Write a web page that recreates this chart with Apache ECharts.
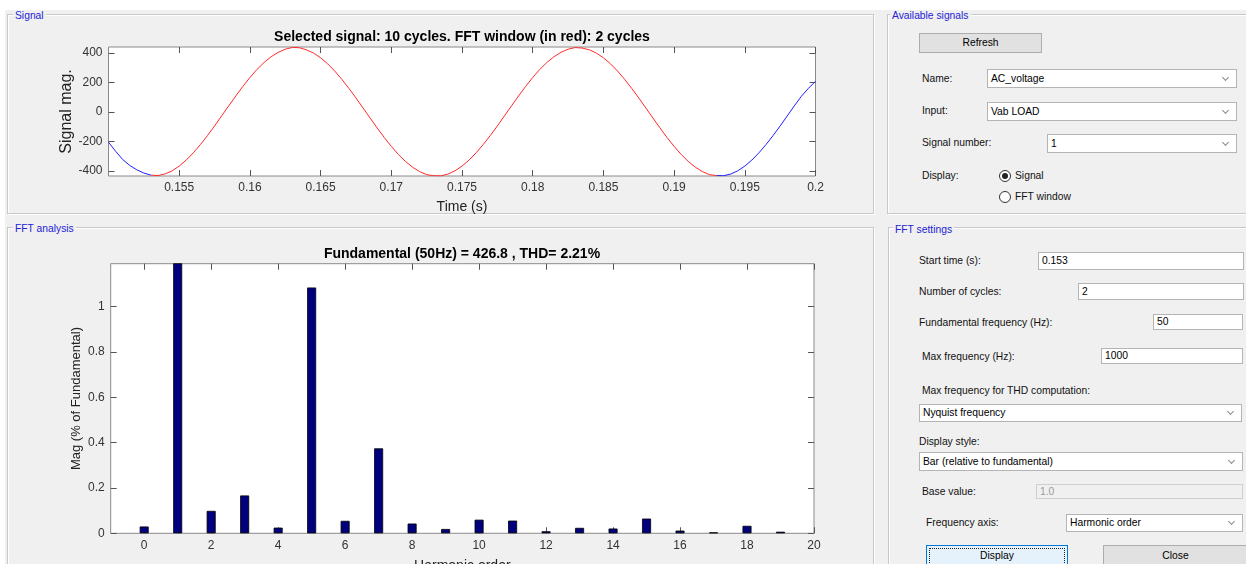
<!DOCTYPE html>
<html>
<head>
<meta charset="utf-8">
<script src="https://cdn.jsdelivr.net/npm/echarts@6/dist/echarts.min.js"></script>
<style>
html, body { margin: 0; padding: 0; width: 1246px; height: 564px; overflow: hidden; background: #fff; font-family: "Liberation Sans", Arial, sans-serif; }
#bg { position: absolute; left: 5px; top: 10px; right: 0; bottom: 0; background: #f0f0f0; }
.panel { position: absolute; border: 1px solid #c8c8c8; box-shadow: inset 1px 1px 0 #fff, 1px 1px 0 #fff; }
.ptitle { position: absolute; font-size: 10.3px; line-height: 12px; color: #2323d8; background: #f0f0f0; padding: 0 2px; white-space: nowrap; }
.lbl { position: absolute; font-size: 10.3px; line-height: 12px; color: #111; white-space: nowrap; }
.box { position: absolute; box-sizing: border-box; background: #fff; border: 1px solid #b4b4b4; font-size: 10.3px; color: #000; padding-left: 3px; white-space: nowrap; overflow: hidden; }
.box.off { background: #f0f0f0; border-color: #cfcfcf; color: #9a9a9a; }
.combo::after { content: ""; position: absolute; right: 8px; top: 50%; width: 4px; height: 4px; margin-top: -4px; border-right: 1px solid #8a8a8a; border-bottom: 1px solid #8a8a8a; transform: rotate(45deg); }
.btn { position: absolute; box-sizing: border-box; background: #e1e1e1; border: 1px solid #adadad; font-size: 10.3px; color: #000; text-align: center; }
.btn.focus { background: #e5f1fb; border-color: #0078d7; }
.btn.focus span { position: absolute; left: 2px; top: 2px; right: 2px; bottom: 2px; border: 1px dotted #222; }
.radio { position: absolute; box-sizing: border-box; width: 12px; height: 12px; border: 1px solid #333; border-radius: 50%; background: #fff; }
.radio.on::after { content: ""; position: absolute; left: 2px; top: 2px; width: 6px; height: 6px; border-radius: 50%; background: #222; }
#plots { position: absolute; left: 0; top: 0; width: 1246px; height: 564px; }
</style>
</head>
<body>
<div id="bg"></div>

<div class="panel" style="left:7px;top:14px;width:865px;height:198px;"></div>
<div class="ptitle" style="left:13px;top:10px;">Signal</div>
<div class="panel" style="left:7px;top:227px;width:865px;height:400px;"></div>
<div class="ptitle" style="left:13px;top:223px;">FFT analysis</div>
<div class="panel" style="left:887px;top:14px;width:400px;height:198px;"></div>
<div class="ptitle" style="left:890px;top:10px;">Available signals</div>
<div class="panel" style="left:888px;top:227px;width:400px;height:400px;"></div>
<div class="ptitle" style="left:893px;top:224px;">FFT settings</div>

<div class="btn" style="left:919px;top:33px;width:123px;height:20px;line-height:18px;">Refresh</div>
<div class="lbl" style="left:922px;top:73px;">Name:</div>
<div class="box combo" style="left:987px;top:69px;width:250px;height:19px;line-height:17px;">AC_voltage</div>
<div class="lbl" style="left:922px;top:105px;">Input:</div>
<div class="box combo" style="left:987px;top:102px;width:250px;height:19px;line-height:17px;">Vab LOAD</div>
<div class="lbl" style="left:922px;top:137px;">Signal number:</div>
<div class="box combo" style="left:1047px;top:134px;width:190px;height:19px;line-height:17px;">1</div>
<div class="lbl" style="left:922px;top:170px;">Display:</div>
<div class="radio on" style="left:999px;top:170px;"></div>
<div class="lbl" style="left:1015px;top:170px;">Signal</div>
<div class="radio" style="left:999px;top:191px;"></div>
<div class="lbl" style="left:1015px;top:191px;">FFT window</div>

<div class="lbl" style="left:919px;top:255px;">Start time (s):</div>
<div class="box" style="left:1038px;top:252px;width:206px;height:18px;line-height:16px;">0.153</div>
<div class="lbl" style="left:919px;top:286px;">Number of cycles:</div>
<div class="box" style="left:1078px;top:283px;width:166px;height:17px;line-height:15px;">2</div>
<div class="lbl" style="left:919px;top:317px;">Fundamental frequency (Hz):</div>
<div class="box" style="left:1153px;top:314px;width:90px;height:16px;line-height:14px;">50</div>
<div class="lbl" style="left:922px;top:351px;">Max frequency (Hz):</div>
<div class="box" style="left:1101px;top:348px;width:142px;height:16px;line-height:14px;">1000</div>
<div class="lbl" style="left:922px;top:385px;">Max frequency for THD computation:</div>
<div class="box combo" style="left:919px;top:404px;width:323px;height:18px;line-height:16px;">Nyquist frequency</div>
<div class="lbl" style="left:919px;top:436px;">Display style:</div>
<div class="box combo" style="left:919px;top:452px;width:324px;height:19px;line-height:17px;">Bar (relative to fundamental)</div>
<div class="lbl" style="left:922px;top:486px;">Base value:</div>
<div class="box off" style="left:1036px;top:484px;width:207px;height:15px;line-height:13px;">1.0</div>
<div class="lbl" style="left:926px;top:517px;">Frequency axis:</div>
<div class="box combo" style="left:1066px;top:514px;width:177px;height:18px;line-height:16px;">Harmonic order</div>
<div class="btn focus" style="left:926px;top:545px;width:142px;height:25px;line-height:19px;"><span></span>Display</div>
<div class="btn" style="left:1103px;top:545px;width:145px;height:25px;line-height:19px;">Close</div>

<div id="plots"></div>

<script>
const timeStart = 0.15;
const timeStep = 0.0005;
const signalMag = [
  -205, -266, -322, -362, -392, -414, -428, -431, -420, -399,
  -367, -326, -277, -221, -160, -95, -27, 41, 108, 173,
  233, 288, 335, 374, 404, 425, 437, 435, 421, 399,
  367, 326, 277, 221, 160, 95, 27, -41, -108, -173,
  -233, -288, -335, -374, -404, -425, -432, -433, -421, -399,
  -367, -326, -277, -221, -160, -95, -27, 41, 108, 173,
  233, 288, 335, 374, 404, 425, 436, 433, 421, 399,
  367, 326, 277, 221, 160, 95, 27, -41, -108, -173,
  -233, -288, -335, -374, -404, -425, -431, -432, -421, -399,
  -367, -326, -277, -221, -160, -95, -27, 41, 106, 160,
  208
];
const fftWindow = [0.153, 0.193];
const timeTicks = [0.155, 0.16, 0.165, 0.17, 0.175, 0.18, 0.185, 0.19, 0.195, 0.2];
const signalTicks = [-400, -200, 0, 200, 400];

// harmonic spectrum, % of fundamental (fundamental itself runs off the top)
const harmonicOrder = [0, 1, 2, 3, 4, 5, 6, 7, 8, 9, 10, 11, 12, 13, 14, 15, 16, 17, 18, 19];
const harmonicMag = [0.03, 100, 0.099, 0.167, 0.025, 1.085, 0.055, 0.375, 0.043, 0.019,
  0.06, 0.056, 0.009, 0.024, 0.021, 0.065, 0.012, 0.004, 0.033, 0.007];
const harmonicTicks = [0, 2, 4, 6, 8, 10, 12, 14, 16, 18, 20];
const magTicks = [0, 0.2, 0.4, 0.6, 0.8, 1];

const signalTitle = 'Selected signal: 10 cycles. FFT window (in red): 2 cycles';
const fftTitle = 'Fundamental (50Hz) = 426.8 , THD= 2.21%';

const FONT = '"Liberation Sans", Arial, sans-serif';
const AXIS_GREY = '#8a8a8a';
const LABEL_COL = '#333';

let samples = signalMag.map((v, i) => [+(timeStart + i * timeStep).toFixed(4), v]);
let inWindow = (t) => t >= fftWindow[0] - 1e-9 && t <= fftWindow[1] + 1e-9;
let blueData = samples.map(([t, v]) => (t <= fftWindow[0] + 1e-9 || t >= fftWindow[1] - 1e-9) ? [t, v] : [t, '-']);
let redData = samples.filter(([t]) => inWindow(t));

// main axis with labels, or a mirrored one that only carries inward ticks
function axis(opt) {
    let labelled = !opt.mirror;
    return Object.assign({
        type: 'value',
        scale: true,
        nameMoveOverlap: false,
        axisLine: { show: false, onZero: false },
        splitLine: { show: false },
        axisTick: {
            show: true, inside: true, length: 6,
            customValues: opt.ticks,
            lineStyle: { color: '#555', width: 1 }
        },
        axisLabel: {
            show: labelled,
            customValues: opt.ticks,
            color: LABEL_COL,
            fontSize: 12,
            fontFamily: FONT,
            margin: 6
        },
        nameTextStyle: { color: '#222', fontSize: 14, fontFamily: FONT }
    }, opt.extra);
}

let chart = echarts.init(document.getElementById('plots'));

chart.setOption({
    animation: false,
    textStyle: { fontFamily: FONT },
    grid: [
        { left: 108.5, top: 47, width: 707, height: 129, show: true, backgroundColor: '#fff',
          borderColor: AXIS_GREY, borderWidth: 1, containLabel: false, outerBoundsMode: 'none' },
        { left: 110.7, top: 263.7, width: 703.3, height: 269.6, show: true, backgroundColor: '#fff',
          borderColor: AXIS_GREY, borderWidth: 1, containLabel: false, outerBoundsMode: 'none' }
    ],
    xAxis: [
        axis({ ticks: timeTicks, extra: { gridIndex: 0, min: 0.15, max: 0.2, position: 'bottom',
            name: 'Time (s)', nameLocation: 'middle', nameGap: 24 } }),
        axis({ ticks: timeTicks, mirror: true, extra: { gridIndex: 0, min: 0.15, max: 0.2, position: 'top' } }),
        axis({ ticks: harmonicTicks, extra: { gridIndex: 1, min: -1, max: 20, position: 'bottom',
            name: 'Harmonic order', nameLocation: 'middle', nameGap: 26 } }),
        axis({ ticks: harmonicTicks, mirror: true, extra: { gridIndex: 1, min: -1, max: 20, position: 'top' } })
    ],
    yAxis: [
        axis({ ticks: signalTicks, extra: { gridIndex: 0, min: -434, max: 440, position: 'left',
            name: 'Signal mag.', nameLocation: 'middle', nameRotate: 90, nameGap: 34,
            nameTextStyle: { color: '#222', fontSize: 16, fontFamily: FONT } } }),
        axis({ ticks: signalTicks, mirror: true, extra: { gridIndex: 0, min: -434, max: 440, position: 'right' } }),
        axis({ ticks: magTicks, extra: { gridIndex: 1, min: 0, max: 1.19, position: 'left',
            name: 'Mag (% of Fundamental)', nameLocation: 'middle', nameRotate: 90, nameGap: 28,
            nameTextStyle: { color: '#222', fontSize: 13, fontFamily: FONT } } }),
        axis({ ticks: magTicks, mirror: true, extra: { gridIndex: 1, min: 0, max: 1.19, position: 'right' } })
    ],
    graphic: [
        { type: 'text', x: 462, y: 37, style: { text: signalTitle, font: 'bold 14px ' + FONT, fill: '#000', textAlign: 'center', textVerticalAlign: 'middle' } },
        { type: 'text', x: 462, y: 254, style: { text: fftTitle, font: 'bold 14px ' + FONT, fill: '#000', textAlign: 'center', textVerticalAlign: 'middle' } }
    ],
    series: [
        {
            name: 'signal', type: 'line', xAxisIndex: 0, yAxisIndex: 0,
            data: blueData, showSymbol: false, connectNulls: false,
            lineStyle: { color: '#1f1fff', width: 1 }
        },
        {
            name: 'FFT window', type: 'line', xAxisIndex: 0, yAxisIndex: 0,
            data: redData, showSymbol: false,
            lineStyle: { color: '#ff2a2a', width: 1 }
        },
        {
            name: 'harmonics', type: 'bar', xAxisIndex: 2, yAxisIndex: 2,
            data: harmonicOrder.map((h, i) => [h, harmonicMag[i]]),
            barWidth: 9, clip: true,
            itemStyle: { color: '#00007f', borderColor: '#000', borderWidth: 0.8 }
        }
    ]
});
</script>
</body>
</html>
